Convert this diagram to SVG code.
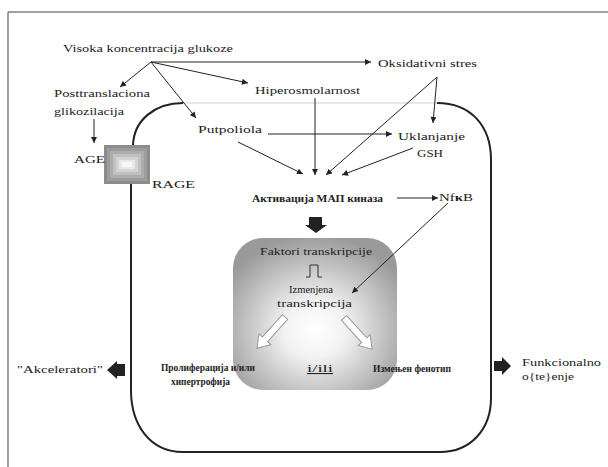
<svg xmlns="http://www.w3.org/2000/svg" width="608" height="467" viewBox="0 0 608 467">
<style>
.t{font-family:"Liberation Serif","DejaVu Serif",serif;font-size:11px;fill:#222}
.b{font-family:"Liberation Serif","DejaVu Serif",serif;font-size:10.5px;font-weight:bold;fill:#222}
.c{stroke:#222;stroke-width:1;fill:none;marker-end:url(#ah)}
.blk{fill:#222;stroke:none}
.hol{fill:#fff;stroke:#9a9a9a;stroke-width:1}
</style>
<defs>
<marker id="ah" viewBox="0 0 10 10" refX="10" refY="5" markerWidth="7" markerHeight="6" markerUnits="userSpaceOnUse" orient="auto">
<path d="M0,0 L10,5 L0,10 z" fill="#222"/>
</marker>
<radialGradient id="gbox" cx="0.5" cy="0.6" r="0.62">
<stop offset="0" stop-color="#ffffff"/>
<stop offset="0.3" stop-color="#f2f2f2"/>
<stop offset="1" stop-color="#9a9a9a"/>
</radialGradient>
</defs>
<rect width="608" height="467" fill="#fff"/>
<g id="frame">
<path d="M8,467 L8,12 L608,12" fill="none" stroke="#444" stroke-width="1"/>
</g>
<g id="cell">
<path d="M183,103 L437,103" stroke="#cfcfcf" stroke-width="1" fill="none"/>
<path d="M133,145 C134,120 155,103 183,103" stroke="#222" stroke-width="2" fill="none"/>
<path d="M437,103 C470,103 491,125 491,160 L491,398 C491,430 470,452 440,452 L183,452 C150,452 131,425 131,390 L131,184" stroke="#222" stroke-width="2" fill="none"/>
</g>
<g id="nucleus">
<rect x="233" y="238" width="164" height="152" rx="30" ry="30" fill="url(#gbox)"/>
</g>
<g id="rage-box">
<rect x="104" y="145" width="46" height="39" fill="#8c8c8c"/>
<rect x="107" y="148" width="40" height="33" fill="#9c9c9c"/>
<rect x="110" y="151" width="34" height="27" fill="#adadad"/>
<rect x="113" y="154" width="28" height="21" fill="#c0c0c0"/>
<rect x="116" y="157" width="22" height="15" fill="#d4d4d4"/>
<rect x="119" y="160" width="16" height="9" fill="#e8e8e8"/>
<rect x="122" y="162" width="10" height="5" fill="#f6f6f6"/>
</g>
<g id="connectors">
<line class="c" x1="151" y1="62" x2="120" y2="87"/>
<line class="c" x1="151" y1="62" x2="248" y2="83"/>
<line class="c" x1="151" y1="62" x2="196" y2="118"/>
<line class="c" x1="151" y1="62" x2="371" y2="62"/>
<line class="c" x1="94" y1="119" x2="94" y2="143"/>
<line class="c" x1="315" y1="98" x2="315" y2="175"/>
<line class="c" x1="437" y1="77" x2="433" y2="123"/>
<line class="c" x1="437" y1="77" x2="326" y2="175"/>
<line class="c" x1="268" y1="134" x2="392" y2="134"/>
<line class="c" x1="238" y1="142" x2="303" y2="174"/>
<line class="c" x1="413" y1="148" x2="342" y2="175"/>
<line class="c" x1="397" y1="198" x2="438" y2="198"/>
<line class="c" x1="448" y1="203" x2="352" y2="293"/>
<path class="blk" d="M309,217 L322,217 L322,225 L327,225 L316,233 L305,225 L309,225 z"/>
<path d="M306,277 L310,277 L310,265 L318,265 L318,277 L322,277" fill="none" stroke="#333" stroke-width="1"/>
<path class="hol" transform="translate(285,317) rotate(132)" d="M0,-3.5 L30,-3.5 L30,-8 L42,0 L30,8 L30,3.5 L0,3.5 z"/>
<path class="hol" transform="translate(344,318) rotate(47.8)" d="M0,-3.5 L30,-3.5 L30,-8 L42,0 L30,8 L30,3.5 L0,3.5 z"/>
<path class="blk" d="M125,364 L117,364 L117,361 L107,370 L117,379 L117,376 L125,376 z"/>
<path class="blk" d="M494,361 L502,361 L502,357 L511,366 L502,375 L502,371 L494,371 z"/>
</g>
<g id="n-visoka"><text class="t" x="63" y="52" textLength="170" lengthAdjust="spacingAndGlyphs">Visoka koncentracija glukoze</text></g>
<g id="n-post"><text class="t" x="54" y="97" textLength="96" lengthAdjust="spacingAndGlyphs">Posttranslaciona</text><text class="t" x="54" y="115" textLength="70" lengthAdjust="spacingAndGlyphs">glikozilacija</text></g>
<g id="n-hiper"><text class="t" x="255" y="94" textLength="105" lengthAdjust="spacingAndGlyphs">Hiperosmolarnost</text></g>
<g id="n-oks"><text class="t" x="378" y="67" textLength="99" lengthAdjust="spacingAndGlyphs">Oksidativni stres</text></g>
<g id="n-put"><text class="t" x="198" y="133" textLength="64" lengthAdjust="spacingAndGlyphs">Putpoliola</text></g>
<g id="n-gsh"><text class="t" x="398" y="140" textLength="67" lengthAdjust="spacingAndGlyphs">Uklanjanje</text><text class="t" x="417" y="157" textLength="26" lengthAdjust="spacingAndGlyphs">GSH</text></g>
<g id="n-age"><text class="t" x="74" y="163" textLength="31" lengthAdjust="spacingAndGlyphs">AGE</text></g>
<g id="n-rage"><text class="t" x="152" y="188" textLength="43" lengthAdjust="spacingAndGlyphs">RAGE</text></g>
<g id="n-map"><text class="b" x="252" y="202" textLength="131" lengthAdjust="spacingAndGlyphs">Активација МАП киназа</text></g>
<g id="n-nfkb"><text class="t" x="439" y="201" textLength="34" lengthAdjust="spacingAndGlyphs">Nf<tspan font-weight="bold">κ</tspan>B</text></g>
<g id="n-faktori"><text class="t" x="260" y="255" textLength="112" lengthAdjust="spacingAndGlyphs">Faktori transkripcije</text></g>
<g id="n-izm"><text class="t" x="289" y="293" textLength="44" lengthAdjust="spacingAndGlyphs">Izmenjena</text><text class="t" x="277" y="307" textLength="75" lengthAdjust="spacingAndGlyphs">transkripcija</text></g>
<g id="n-ili"><text class="t" x="307" y="372" textLength="26" lengthAdjust="spacingAndGlyphs" text-decoration="underline" font-size="12">i/ili</text></g>
<g id="n-prol"><text class="b" x="161" y="371" textLength="94" lengthAdjust="spacingAndGlyphs">Пролиферација и/или</text><text class="b" x="171" y="385" textLength="59" lengthAdjust="spacingAndGlyphs">хипертрофија</text></g>
<g id="n-fen"><text class="b" x="373" y="372" textLength="78" lengthAdjust="spacingAndGlyphs">Измењен фенотип</text></g>
<g id="n-akc"><text class="t" x="17" y="373" textLength="86" lengthAdjust="spacingAndGlyphs">"Akceleratori"</text></g>
<g id="n-funk"><text class="t" x="522" y="366" textLength="79" lengthAdjust="spacingAndGlyphs">Funkcionalno</text><text class="t" x="522" y="380" textLength="52" lengthAdjust="spacingAndGlyphs">o{te}enje</text></g>
</svg>
